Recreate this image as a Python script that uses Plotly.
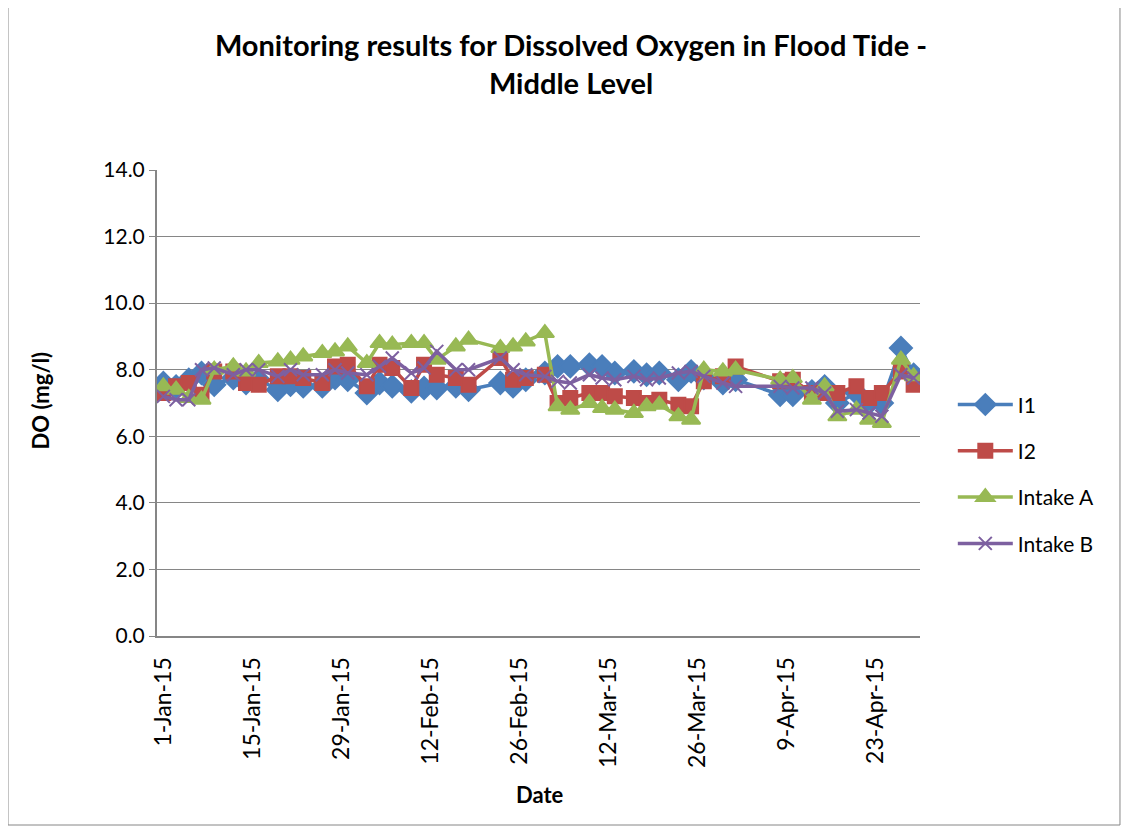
import plotly.graph_objects as go

dates = [
    "2015-01-01", "2015-01-03", "2015-01-05", "2015-01-07", "2015-01-09",
    "2015-01-12", "2015-01-14", "2015-01-16", "2015-01-19", "2015-01-21",
    "2015-01-23", "2015-01-26", "2015-01-28", "2015-01-30", "2015-02-02",
    "2015-02-04", "2015-02-06", "2015-02-09", "2015-02-11", "2015-02-13",
    "2015-02-16", "2015-02-18", "2015-02-23", "2015-02-25", "2015-02-27",
    "2015-03-02", "2015-03-04", "2015-03-06", "2015-03-09", "2015-03-11",
    "2015-03-13", "2015-03-16", "2015-03-18", "2015-03-20", "2015-03-23",
    "2015-03-25", "2015-03-27", "2015-03-30", "2015-04-01", "2015-04-08",
    "2015-04-10", "2015-04-13", "2015-04-15", "2015-04-17", "2015-04-20",
    "2015-04-22", "2015-04-24", "2015-04-27", "2015-04-29",
]

i1 = [
    7.6, 7.5, 7.7, 7.9, 7.55, 7.75, 7.6, 7.7, 7.4, 7.55,
    7.5, 7.5, 7.75, 7.7, 7.3, 7.6, 7.5, 7.35, 7.45, 7.45,
    7.5, 7.4, 7.6, 7.5, 7.7, 7.9, 8.1, 8.1, 8.15, 8.1,
    7.9, 7.95, 7.85, 7.9, 7.7, 7.95, 7.75, 7.6, 7.7, 7.25,
    7.25, 7.35, 7.5, 7.0, 7.3, 7.0, 7.0, 8.65, 7.85,
]

i2 = [
    7.3, 7.5, 7.6, 7.25, 7.95, 7.95, 7.6, 7.55, 7.8, 7.8,
    7.75, 7.6, 8.1, 8.15, 7.5, 8.15, 8.05, 7.45, 8.15, 7.85,
    7.75, 7.55, 8.35, 7.7, 7.75, 7.85, 7.0, 7.15, 7.3, 7.3,
    7.2, 7.15, 7.0, 7.1, 6.95, 6.9, 7.65, 7.8, 8.1, 7.65,
    7.7, 7.3, 7.3, 7.3, 7.5, 7.15, 7.3, 7.95, 7.55,
]

intake_a = [
    7.5, 7.4, 7.15, 7.1, 8.0, 8.1, 7.95, 8.2, 8.25, 8.3,
    8.4, 8.5, 8.55, 8.7, 8.2, 8.8, 8.75, 8.8, 8.8, 8.3,
    8.7, 8.9, 8.65, 8.7, 8.85, 9.1, 6.9, 6.8, 7.0, 6.85,
    6.8, 6.7, 6.9, 6.95, 6.6, 6.5, 8.0, 7.95, 8.0, 7.7,
    7.75, 7.1, 7.5, 6.6, 6.8, 6.5, 6.4, 8.3, 7.8,
]

intake_b = [
    7.2, 7.1, 7.1, 8.0, 8.05, 7.85, 8.0, 8.0, 7.8, 8.0,
    7.85, 7.85, 8.0, 7.9, 7.85, 8.1, 8.35, 7.9, 8.05, 8.55,
    8.0, 8.0, 8.35, 8.0, 7.85, 7.8, 7.65, 7.6, 7.85, 7.75,
    7.7, 7.8, 7.7, 7.75, 7.9, 7.95, 7.8, 7.6, 7.5, 7.5,
    7.45, 7.45, 7.3, 6.75, 6.8, 6.7, 6.6, 7.85, 7.75,
]

tick_dates = [
    "2015-01-01", "2015-01-15", "2015-01-29", "2015-02-12", "2015-02-26",
    "2015-03-12", "2015-03-26", "2015-04-09", "2015-04-23",
]
tick_labels = [
    "1-Jan-15", "15-Jan-15", "29-Jan-15", "12-Feb-15", "26-Feb-15",
    "12-Mar-15", "26-Mar-15", "9-Apr-15", "23-Apr-15",
]

FONT = "Lato, 'Open Sans', sans-serif"
GRID = "#868686"

series = [
    ("I1", i1, "#4A7EBB", "diamond", 17),
    ("I2", i2, "#BE4B48", "square", 14),
    ("Intake A", intake_a, "#98B954", "triangle-up", 16),
    ("Intake B", intake_b, "#7D60A0", "x-thin", 13),
]

fig = go.Figure()

for name, values, color, symbol, size in series:
    fig.add_trace(
        go.Scatter(
            x=dates,
            y=values,
            mode="lines+markers",
            name=name,
            legendgroup=name,
            line=dict(color=color, width=3.5),
            marker=dict(
                symbol=symbol,
                size=size,
                color=color,
                line=dict(color=color, width=2),
            ),
        )
    )

# page body adds 8px, so the figure is 16px smaller and shifted
fig.update_layout(
    width=1113,
    height=818,
    paper_bgcolor="white",
    plot_bgcolor="white",
    font=dict(family=FONT, size=21, color="black"),
    margin=dict(l=149, r=201, t=162, b=190),
    title=dict(
        text="<b>Monitoring results for Dissolved Oxygen in Flood Tide -<br>Middle Level</b>",
        x=0.5426,
        xanchor="center",
        xref="paper",
        y=1 - 48 / 818,
        yref="container",
        yanchor="middle",
        font=dict(family=FONT, size=29, color="black"),
    ),
    legend=dict(
        x=1.043,
        y=0.54,
        xanchor="left",
        yanchor="top",
        itemwidth=55,
        tracegroupgap=16,
        font=dict(family=FONT, size=21),
        bgcolor="rgba(0,0,0,0)",
    ),
    showlegend=True,
    annotations=[
        dict(
            text="<b>DO (mg/l)</b>",
            textangle=-90,
            x=-0.153,
            y=0.506,
            xref="paper",
            yref="paper",
            xanchor="center",
            yanchor="middle",
            showarrow=False,
            font=dict(family=FONT, size=22),
        ),
        dict(
            text="<b>Date</b>",
            x=0.502,
            y=-0.341,
            xref="paper",
            yref="paper",
            xanchor="center",
            yanchor="middle",
            showarrow=False,
            font=dict(family=FONT, size=22),
        ),
    ],
    shapes=[
        dict(
            type="rect",
            xref="paper",
            yref="paper",
            x0=-0.1953,
            x1=1.2621,
            y0=-0.4056,
            y1=1.3627,
            line=dict(color="#868686", width=1),
        )
    ],
)

fig.update_xaxes(
    type="date",
    range=["2014-12-31", "2015-04-30"],
    tickvals=tick_dates,
    ticktext=tick_labels,
    tickangle=-90,
    tickfont=dict(family=FONT, size=23),
    ticklabelstandoff=10,
    showgrid=False,
    showline=True,
    linecolor=GRID,
    linewidth=2,
    ticks="",
    zeroline=False,
)

fig.update_yaxes(
    range=[0, 14],
    dtick=2,
    tickformat=".1f",
    showgrid=True,
    gridcolor=GRID,
    gridwidth=1,
    showline=True,
    linecolor=GRID,
    linewidth=2,
    ticks="outside",
    ticklen=6,
    tickcolor=GRID,
    zeroline=False,
)

fig.write_html("out.html")
